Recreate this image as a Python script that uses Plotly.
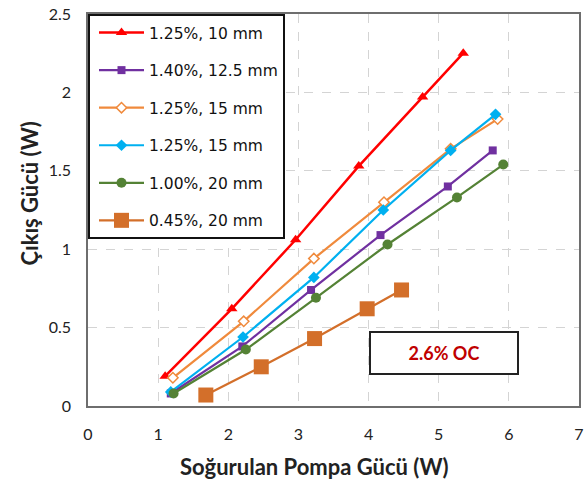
import plotly.graph_objects as go

# Absorbed pump power (W) and output power (W) for each crystal configuration
labels = ["1.25%, 10 mm", "1.40%, 12.5 mm", "1.25%, 15 mm", "1.25%, 15 mm", "1.00%, 20 mm", "0.45%, 20 mm"]

x_red = [1.10, 2.05, 2.96, 3.86, 4.77, 5.35]
y_red = [0.19, 0.62, 1.06, 1.53, 1.97, 2.25]

x_purple = [1.18, 2.20, 3.18, 4.17, 5.13, 5.77]
y_purple = [0.08, 0.38, 0.74, 1.09, 1.40, 1.63]

x_orange = [1.21, 2.22, 3.22, 4.22, 5.17, 5.84]
y_orange = [0.18, 0.54, 0.94, 1.30, 1.64, 1.83]

x_cyan = [1.18, 2.21, 3.22, 4.21, 5.17, 5.81]
y_cyan = [0.09, 0.44, 0.82, 1.25, 1.63, 1.86]

x_green = [1.22, 2.25, 3.25, 4.27, 5.26, 5.92]
y_green = [0.08, 0.36, 0.69, 1.03, 1.33, 1.54]

x_brown = [1.68, 2.47, 3.23, 3.98, 4.47]
y_brown = [0.07, 0.25, 0.43, 0.62, 0.74]

x_ticks = [0, 1, 2, 3, 4, 5, 6, 7]
y_ticks = [0, 0.5, 1, 1.5, 2, 2.5]
y_tick_text = ["0", "0.5", "1", "1.5", "2", "2.5"]

series = [
    (x_red, y_red, "#FF0000", dict(symbol="triangle-up", size=10, color="#FF0000")),
    (x_purple, y_purple, "#7030A0", dict(symbol="square", size=8, color="#7030A0")),
    (x_orange, y_orange, "#F08A3C", dict(symbol="diamond", size=8, color="white",
                                          line=dict(color="#F08A3C", width=1.5))),
    (x_cyan, y_cyan, "#00B0F0", dict(symbol="diamond", size=9, color="#00B0F0")),
    (x_green, y_green, "#548235", dict(symbol="circle", size=10, color="#548235")),
    (x_brown, y_brown, "#D36F2A", dict(symbol="square", size=15, color="#D36F2A")),
]

fig = go.Figure()
for i, (xs, ys, col, mk) in enumerate(series):
    fig.add_trace(go.Scatter(
        x=xs, y=ys, mode="lines+markers", name=labels[i],
        line=dict(color=col, width=2.5 if i == 0 else 2.2),
        marker=mk, legendgroup=f"g{i}",
    ))

font_main = "Lato, Open Sans, sans-serif"
font_legend = "DejaVu Sans, Open Sans, sans-serif"

axis_common = dict(
    showgrid=True, gridcolor="#d4d4d4", griddash="dash", gridwidth=1,
    zeroline=False, showline=True, linecolor="#6e6e6e", linewidth=1.5, mirror=True,
    ticks="", tickfont=dict(family=font_main, size=16, color="#222222"),
)

fig.update_layout(
    width=587, height=487,
    margin=dict(l=88, r=3, t=14, b=81),
    paper_bgcolor="white", plot_bgcolor="white",
    showlegend=True,
    legend=dict(
        x=0, y=1, xanchor="left", yanchor="top",
        bgcolor="white", bordercolor="#111111", borderwidth=2,
        font=dict(family=font_legend, size=15.5, color="#111111"),
        traceorder="grouped", tracegroupgap=14.4,
        itemwidth=45, indentation=4,
    ),
    xaxis=dict(range=[0, 7], tickvals=x_ticks, ticklabelstandoff=13, **axis_common),
    yaxis=dict(range=[0, 2.5], tickvals=y_ticks, ticktext=y_tick_text,
               ticklabelstandoff=12, **axis_common),
    annotations=[
        dict(text="<b>Soğurulan Pompa Gücü (W)</b>", xref="paper", yref="paper",
             x=(316 - 88) / 495, y=-60 / 392, xanchor="center", yanchor="middle",
             showarrow=False, font=dict(family=font_main, size=22, color="#222222")),
        dict(text="<b>Çıkış Gücü (W)</b>", xref="paper", yref="paper",
             x=-59 / 495, y=(406 - 193) / 392, xanchor="center", yanchor="middle",
             textangle=-90, showarrow=False,
             font=dict(family=font_main, size=22, color="#222222")),
        dict(text="<b>2.6% OC</b>", xref="x", yref="y", x=5.07, y=0.335,
             xanchor="center", yanchor="middle", showarrow=False,
             width=144, height=38, bgcolor="white",
             bordercolor="#222222", borderwidth=2,
             font=dict(family=font_main, size=18, color="#C00000")),
    ],
)

fig.write_html("out.html")
